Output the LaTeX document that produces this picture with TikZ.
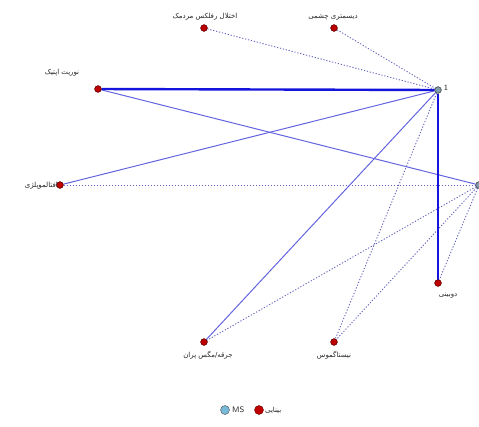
\documentclass[tikz,border=0pt]{standalone}
\usepackage{fontspec}
\newfontfamily\arabicfont[Script=Arabic]{DejaVu Sans}
\TeXXeTstate=1
\begin{document}
\begin{tikzpicture}[x=1pt,y=-1pt,
  rednode/.style={circle,draw=red!40!black,fill=red!75!black,line width=0.5pt,minimum size=6.5pt,inner sep=0pt},
  msnode/.style={circle,draw=gray!60!black,fill=cyan!25!gray,line width=0.5pt,minimum size=6.5pt,inner sep=0pt},
  lbl/.style={font=\arabicfont\fontsize{7}{8}\selectfont,text=black!85,inner sep=0pt},
  thickedge/.style={draw={rgb,255:red,20;green,20;blue,220},line width=2.4pt},
  thinedge/.style={draw={rgb,255:red,100;green,100;blue,225},line width=1pt},
  dotedge/.style={draw={rgb,255:red,100;green,100;blue,190},line width=0.9pt,dash pattern=on 1.2pt off 1.8pt}]
\useasboundingbox[fill=white] (0,0) rectangle (479,426);
% nodes
\node[rednode] (A) at (204,28) {};
\node[rednode] (B) at (334,28) {};
\node[rednode] (C) at (98,89) {};
\node[rednode] (D) at (60,185) {};
\node[msnode] (E) at (438,90) {};
\node[msnode] (F) at (479,185) {};
\node[rednode] (G) at (438,283) {};
\node[rednode] (H) at (204,342) {};
\node[rednode] (I) at (334,342) {};
% edges
\draw[dotedge] (A) -- (E);
\draw[dotedge] (B) -- (E);
\draw[dotedge] (E) -- (I);
\draw[dotedge] (D) -- (F);
\draw[dotedge] (F) -- (H);
\draw[dotedge] (F) -- (I);
\draw[dotedge] (F) -- (G);
\draw[thinedge] (C) -- (F);
\draw[thinedge] (D) -- (E);
\draw[thinedge] (H) -- (E);
\draw[thickedge] (C) -- (E);
\draw[thickedge] (E) -- (G);
% redraw nodes on top
\node[rednode] at (A) {};
\node[rednode] at (B) {};
\node[rednode] at (C) {};
\node[rednode] at (D) {};
\node[msnode] at (E) {};
\node[msnode] at (F) {};
\node[rednode] at (G) {};
\node[rednode] at (H) {};
\node[rednode] at (I) {};
% labels
\node[lbl] (lA) at (205,17) {\beginR اختلال رفلکس مردمک\endR};
\node[lbl] (lB) at (333,17) {\beginR دیسمتری چشمی\endR};
\node[lbl] (lC) at (62,73) {\beginR نوریت اپتیک\endR};
\node[lbl,anchor=east] (lD) at (58,186) {\beginR افتالموپلژی\endR};
\node[lbl,font=\sffamily\fontsize{8}{9}\selectfont] (lE) at (446,88) {1};
\node[lbl] (lG) at (448,296) {\beginR دوبینی\endR};
\node[lbl] (lH) at (208,355) {\beginR جرقه/مگس پران\endR};
\node[lbl] (lI) at (334,355) {\beginR نیستاگموس\endR};
% legend
\node[circle,draw=gray!60!black,fill={rgb,255:red,120;green,185;blue,215},minimum size=9pt,inner sep=0pt] (legMS) at (225,410) {};
\node[lbl,font=\sffamily\fontsize{8}{9}\selectfont,anchor=west] (legMSt) at (232,410) {MS};
\node[circle,draw=red!40!black,fill=red!75!black,minimum size=9pt,inner sep=0pt] (legV) at (259,410) {};
\node[lbl,anchor=west] (legVt) at (265,410) {\beginR بینایی\endR};
\end{tikzpicture}
\end{document}
